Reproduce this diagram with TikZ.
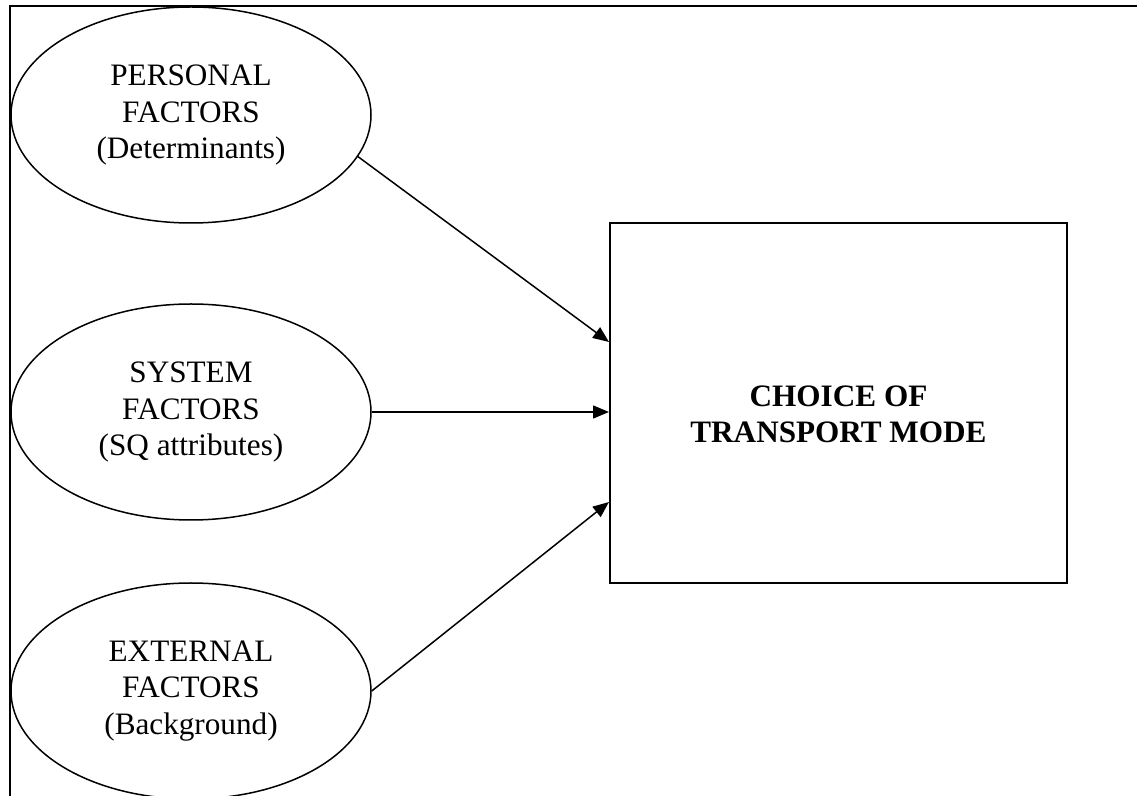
\documentclass[tikz,border=0pt]{standalone}
\usepackage{fontspec}
\setmainfont{Liberation Serif}
\usetikzlibrary{arrows.meta,shapes.geometric}
\begin{document}
\begin{tikzpicture}[x=0.5pt,y=-0.5pt,
  factor/.style={draw,ellipse,line width=0.75pt,minimum width=180pt,minimum height=108pt,inner sep=0pt,align=center,font=\fontsize{15.6}{18.2}\selectfont},
  modebox/.style={draw,rectangle,line width=1pt,minimum width=228.5pt,minimum height=180pt,inner sep=0pt},
  boxtext/.style={align=center,font=\fontsize{15.6}{18}\selectfont\bfseries},
  arr/.style={line width=0.75pt,-{Triangle[length=8pt,width=6.5pt]}}]
\useasboundingbox (0,0) rectangle (1137,796);
\draw[line width=1pt] (10,796) -- (10,6) -- (1137,6);
\node[factor] (p) at (191,115) {PERSONAL\\FACTORS\\(Determinants)};
\node[factor] (s) at (191,412) {SYSTEM\\FACTORS\\(SQ attributes)};
\node[factor] (e) at (191,691) {EXTERNAL\\FACTORS\\(Background)};
\node[modebox] (box) at (838.5,403) {};
\node[boxtext] (boxlabel) at ([yshift=-5.5pt]box.center) {CHOICE OF\\TRANSPORT MODE};
\draw[arr] (p.-14.6) -- ([yshift=30.5pt]box.west);
\draw[arr] (s.east) -- (box.west |- s.east);
\draw[arr] (e.east) -- ([yshift=-49.5pt]box.west);
\end{tikzpicture}
\end{document}
